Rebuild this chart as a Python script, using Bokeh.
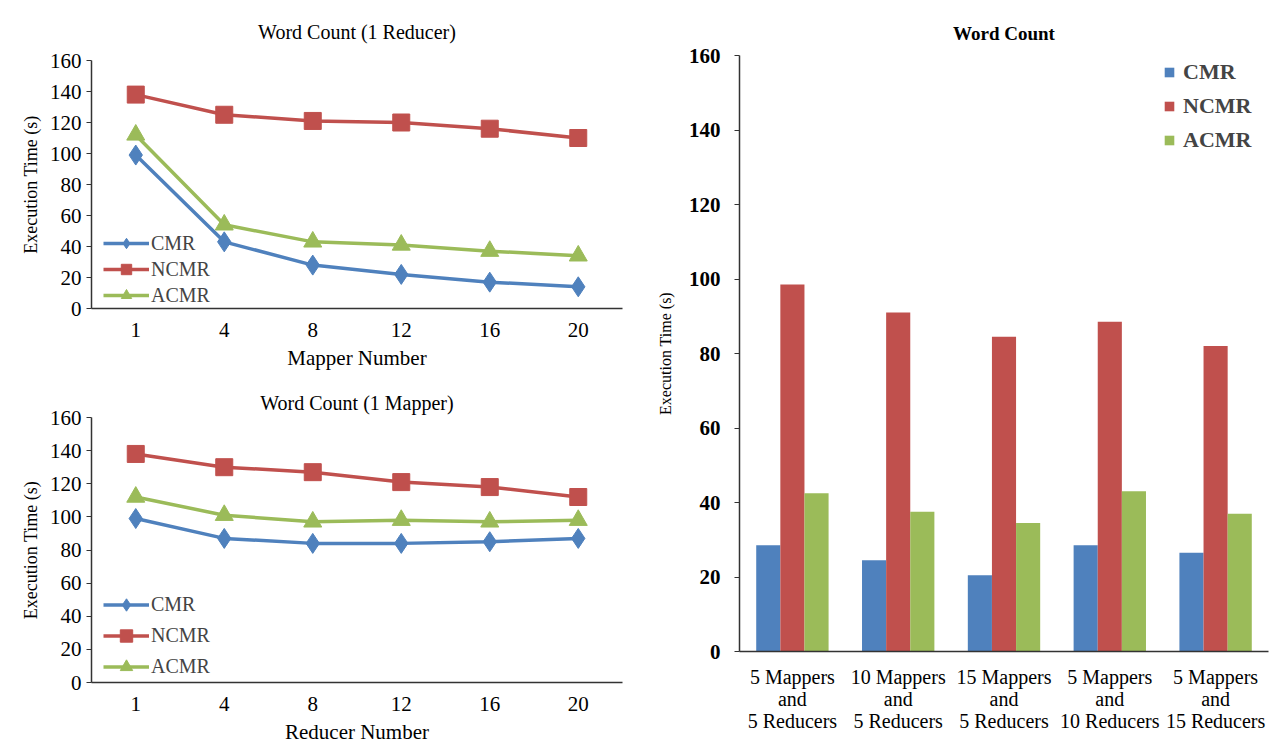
from bokeh.plotting import figure
from bokeh.layouts import row, column
from bokeh.models import ColumnDataSource, FactorRange, Range1d, Legend, LegendItem
from bokeh.transform import dodge
from bokeh.embed import file_html
from bokeh.resources import INLINE

# ---- data ----
mapper_numbers = ["1", "4", "8", "12", "16", "20"]
reducer_numbers = ["1", "4", "8", "12", "16", "20"]

r1_cmr = [99, 43, 28, 22, 17, 14]
r1_ncmr = [138, 125, 121, 120, 116, 110]
r1_acmr = [112, 54, 43, 41, 37, 34]

m1_cmr = [99, 87, 84, 84, 85, 87]
m1_ncmr = [138, 130, 127, 121, 118, 112]
m1_acmr = [112, 101, 97, 98, 97, 98]

configs = ["5 Mappers\nand\n5 Reducers", "10 Mappers\nand\n5 Reducers",
           "15 Mappers\nand\n5 Reducers", "5 Mappers\nand\n10 Reducers",
           "5 Mappers\nand\n15 Reducers"]
bar_cmr = [28.5, 24.5, 20.5, 28.5, 26.5]
bar_ncmr = [98.5, 91, 84.5, 88.5, 82]
bar_acmr = [42.5, 37.5, 34.5, 43, 37]

series_names = ["CMR", "NCMR", "ACMR"]
y_ticks = [0, 20, 40, 60, 80, 100, 120, 140, 160]

BLUE = "#4F81BD"
RED = "#C0504D"
GREEN = "#9BBB59"
FONT = "Liberation Serif"


def style_axes(p, tick_size, label_size, tick_style="normal"):
    p.xgrid.grid_line_color = None
    p.ygrid.grid_line_color = None
    p.outline_line_color = None
    for ax in (p.xaxis, p.yaxis):
        ax.axis_line_color = "#333333"
        ax.axis_line_width = 1.5
        ax.major_label_text_font = FONT
        ax.major_label_text_font_size = tick_size
        ax.major_label_text_font_style = tick_style
        ax.major_label_text_color = "black"
        ax.axis_label_text_font = FONT
        ax.axis_label_text_font_style = "normal"
        ax.axis_label_text_color = "black"
        ax.axis_label_text_font_size = label_size
        ax.minor_tick_line_color = None
    p.xaxis.major_tick_line_color = None
    p.yaxis.major_tick_out = 5
    p.yaxis.major_tick_in = 0
    p.yaxis.major_tick_line_color = "#333333"
    p.yaxis.ticker = y_ticks
    p.title.text_font = FONT
    p.title.text_font_style = "normal"
    p.title.text_color = "black"
    p.title.align = "center"


def line_chart(title, cats, cmr, ncmr, acmr, xlabel, w, h, mb, legend_spacing):
    p = figure(width=w, height=h, x_range=FactorRange(*cats, range_padding=0),
               y_range=Range1d(0, 160), output_backend="svg", toolbar_location=None,
               title=title, min_border_left=mb[0], min_border_right=mb[1],
               min_border_top=mb[2], min_border_bottom=mb[3])
    src = ColumnDataSource(dict(x=cats, cmr=cmr, ncmr=ncmr, acmr=acmr))
    items = []
    for col, color, marker, name, size in [("cmr", BLUE, "diamond", "CMR", 20),
                                           ("ncmr", RED, "square", "NCMR", 17),
                                           ("acmr", GREEN, "triangle", "ACMR", 18)]:
        l = p.line("x", col, source=src, line_color=color, line_width=3.5)
        s = p.scatter("x", col, source=src, marker=marker, size=size,
                      fill_color=color, line_color=color)
        items.append(LegendItem(label=name, renderers=[l, s]))
    leg = Legend(items=items, location=(12, 0), background_fill_alpha=0,
                 border_line_color=None, label_text_font=FONT,
                 label_text_font_size="20px", glyph_width=46,
                 glyph_height=legend_spacing, label_height=legend_spacing,
                 spacing=0, padding=0, margin=0, label_standoff=2)
    p.add_layout(leg, "center")
    style_axes(p, "21px", "18px")
    p.xaxis.axis_label = xlabel
    p.yaxis.axis_label = "Execution Time (s)"
    p.xaxis.axis_label_text_font_size = "21px"
    p.yaxis.axis_label_text_font_size = "18px"
    p.yaxis.axis_label_standoff = 6
    p.xaxis.axis_label_standoff = 6
    p.xaxis.major_label_standoff = 8
    p.title.text_font_size = "20px"
    return p


p1 = line_chart("Word Count (1 Reducer)", mapper_numbers, r1_cmr, r1_ncmr, r1_acmr,
                "Mapper Number", 640, 375, (88, 15, 57, 67), 26)
p1.title.standoff = 36
p2 = line_chart("Word Count (1 Mapper)", reducer_numbers, m1_cmr, m1_ncmr, m1_acmr,
                "Reducer Number", 640, 371, (91, 18, 42, 60), 31)
p2.title.standoff = 8

# ---- bar chart ----
p3 = figure(width=632, height=746, x_range=FactorRange(*configs, range_padding=0),
            y_range=Range1d(0, 160), output_backend="svg", toolbar_location=None,
            title="Word Count", min_border_left=99, min_border_right=4,
            min_border_top=55, min_border_bottom=95)
bsrc = ColumnDataSource(dict(x=configs, cmr=bar_cmr, ncmr=bar_ncmr, acmr=bar_acmr))
bw = 0.228
items = []
for col, color, off, name in [("cmr", BLUE, -bw, "CMR"), ("ncmr", RED, 0, "NCMR"),
                              ("acmr", GREEN, bw, "ACMR")]:
    r = p3.vbar(x=dodge("x", off, range=p3.x_range), top=col, width=bw, source=bsrc,
                fill_color=color, line_color=None)
    items.append(LegendItem(label=name, renderers=[r]))
leg3 = Legend(items=items, location=(424, 494), background_fill_alpha=0,
              border_line_color=None, label_text_font=FONT,
              label_text_font_size="22px", label_text_font_style="bold",
              glyph_width=12, glyph_height=12, label_height=34, spacing=0,
              padding=0, margin=0, label_standoff=8)
p3.add_layout(leg3, "center")
style_axes(p3, "21px", "16px", tick_style="bold")
p3.yaxis.axis_label = "Execution Time (s)"
p3.yaxis.axis_label_standoff = 12
p3.yaxis.major_label_standoff = 14
p3.xaxis.major_label_text_font_style = "normal"
p3.xaxis.major_label_text_font_size = "20px"
p3.xaxis.major_label_text_line_height = 1.0
p3.xaxis.major_label_standoff = 8
p3.title.text_font_size = "19px"
p3.title.text_font_style = "bold"
p3.title.standoff = 24
p3.title.offset = -21

layout = row(column(p1, p2), p3)
open("out.html", "w").write(file_html(layout, INLINE))
